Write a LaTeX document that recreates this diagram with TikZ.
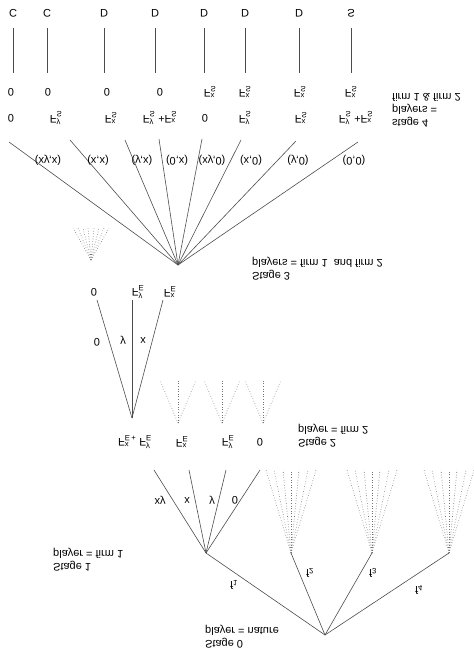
\documentclass[tikz,border=0pt]{standalone}
\usepackage{amsmath}
\usepackage{fontspec}
\setmainfont{Liberation Sans}
\usetikzlibrary{positioning}

% payoff F with upper and lower index
\newcommand{\Fpay}[2]{F$^{\text{#1}}_{\text{#2}}$}

\begin{document}
\begin{tikzpicture}[
      x=1pt, y=-1pt,
      every node/.style={yscale=-1, font=\fontsize{11}{13}\selectfont, inner sep=1pt},
      branch/.style={draw=black!70, line width=0.6pt},
      subtree/.style={draw=black!55, dotted, line width=0.6pt},
      stagelbl/.style={anchor=west, align=left}
    ]
    \useasboundingbox (0,0) rectangle (474,659);

    % Stage 4: final moves and payoffs
    \foreach \i/\x/\a in {1/13/C, 2/47/C, 3/104/D, 4/155/D, 5/204/D, 6/245/D, 7/299/D, 8/351/S}
      \node (t\i) at (\x,13) {\a};
    \foreach \i/\x/\p in {1/11/0, 2/48/0, 3/107/0, 4/160/0, 5/210/{\Fpay{x}{S}},
                          6/245/{\Fpay{x}{S}}, 7/300/{\Fpay{x}{S}}, 8/351/{\Fpay{x}{S}}}
      \node (a\i) at (\x,92) {\p};
    \foreach \i/\x/\p in {1/11/0, 2/56/{\Fpay{y}{S}}, 3/111/{\Fpay{x}{S}}, 4/160/{\Fpay{y}{S} +\Fpay{x}{S}},
                          5/205/0, 6/245/{\Fpay{y}{S}}, 7/301/{\Fpay{x}{S}}, 8/356/{\Fpay{y}{S} +\Fpay{x}{S}}}
      \node (b\i) at (\x,118) {\p};
    \foreach \i in {1,...,8}
      \draw[branch, shorten <=10pt, shorten >=19pt] (t\i) -- (t\i |- a\i);

    \node[stagelbl] (st4) at (391,110) {stage 4\\players =\\firm 1 \& firm 2};

    % Stage 3: joint move of firm 1 and firm 2
    \coordinate (s3) at (178,265);
    \foreach \i/\x/\y in {1/9/142, 2/70/140, 3/125/140, 4/159/139, 5/202/139, 6/241/140, 7/296/141, 8/358/142} {
      \coordinate (e\i) at (\x,\y);
      \draw[branch] (s3) -- (e\i);
    }
    \foreach \i/\x/\p in {1/48/{(xy,x)}, 2/98/{(x,x)}, 3/142/{(y,x)}, 4/177/{(0,x)},
                          5/212/{(xy,0)}, 6/251/{(x,0)}, 7/298/{(y,0)}, 8/354/{(0,0)}}
      \node (q\i) at (\x,160) {\p};
    \coordinate (d3) at (91,260);
    \foreach \dx in {-18,-13,-8,-3,3,8,13,18}
      \draw[subtree] (d3) -- ++(\dx,-32);

    \node[stagelbl] (st3) at (251,269) {Stage 3\\players = firm 1 \ and firm 2};

    % Stage 2: firm 2 invests
    \coordinate (s2) at (132,418);
    \node (c1) at (94,292) {0};
    \node (c2) at (138,292) {\Fpay{y}{E}};
    \node (c3) at (170,292) {\Fpay{x}{E}};
    \foreach \i/\x in {1/97, 2/132, 3/163} {
      \coordinate (m\i) at (\x,300);
      \draw[branch] (s2) -- (m\i);
    }
    \node (l1) at (97,342) {0};
    \node (l2) at (123,340) {y};
    \node (l3) at (143,340) {x};
    \foreach \x in {178,222,263} {
      \coordinate (d2) at (\x,423);
      \foreach \dx in {-18,0,18}
        \draw[subtree] (d2) -- ++(\dx,-43);
    }
    \foreach \i/\x/\p in {1/135/{\Fpay{x}{E\,+} \Fpay{y}{E}}, 2/182/{\Fpay{x}{E}}, 3/228/{\Fpay{y}{E}}, 4/260/0}
      \node (g\i) at (\x,442) {\p};

    \node[stagelbl] (st2) at (297,436) {Stage 2\\player = firm 2};

    % Stage 1: firm 1 invests
    \coordinate (s1) at (206,553);
    \foreach \i/\x in {1/154, 2/189, 3/226, 4/260} {
      \coordinate (k\i) at (\x,470);
      \draw[branch] (s1) -- (k\i);
    }
    \foreach \i/\x/\p in {1/160/xy, 2/187/x, 3/212/y, 4/235/0}
      \node (h\i) at (\x,500) {\p};
    \foreach \i/\x in {2/291, 3/372, 4/449} {
      \coordinate (r\i) at (\x,553);
      \foreach \dx in {-25,-17,-8,0,8,17,25}
        \draw[subtree] (r\i) -- ++(\dx,-83);
    }

    \node[stagelbl] (st1) at (52,560) {Stage 1\\player = firm 1};

    % Stage 0: nature draws the type
    \coordinate (s0) at (325,635);
    \draw[branch] (s0) -- (s1);
    \foreach \i in {2,3,4}
      \draw[branch] (s0) -- (r\i);
    \node (f1) at (234,585) {f$_{\text{1}}$};
    \node (f2) at (310,573) {f$_{\text{2}}$};
    \node (f3) at (373,573) {f$_{\text{3}}$};
    \node (f4) at (419,590) {f$_{\text{4}}$};

    \node[stagelbl] (st0) at (204,637) {Stage 0\\player = nature};
\end{tikzpicture}
\end{document}
